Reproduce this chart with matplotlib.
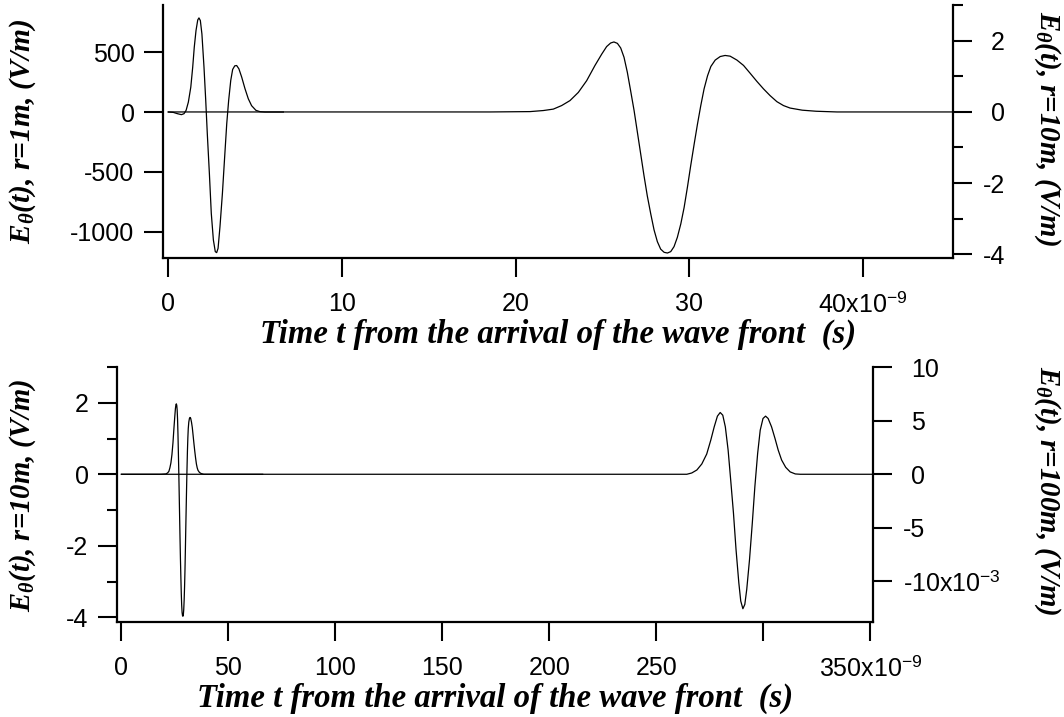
import matplotlib
matplotlib.use("Agg")
import matplotlib.pyplot as plt
from matplotlib.transforms import ScaledTranslation

SERIF = "Liberation Serif"
plt.rcParams["mathtext.fontset"] = "custom"
plt.rcParams["mathtext.rm"] = SERIF + ":bold:italic"
plt.rcParams["mathtext.sf"] = "Liberation Sans"
plt.rcParams["mathtext.it"] = SERIF + ":italic"
plt.rcParams["mathtext.bf"] = SERIF + ":bold"
plt.rcParams["axes.unicode_minus"] = False

# ---------------- data (time in ns) ----------------
# E_theta at r = 1 m (V/m)
t_r1 = [0.01, 0.29, 0.53, 0.76, 0.91, 1.03, 1.16, 1.30, 1.41, 1.50, 1.60, 1.70,
        1.77, 1.85, 1.94, 2.06, 2.16, 2.25, 2.37, 2.48, 2.60, 2.71, 2.79, 2.87,
        2.98, 3.12, 3.25, 3.37, 3.48, 3.60, 3.71, 3.83, 3.94, 4.07, 4.23, 4.42,
        4.61, 4.80, 5.05, 5.28, 5.57, 6.63]
e_r1 = [0, -3, -14, -22, -14, 14, 83, 208, 375, 542, 681, 770,
        787, 765, 653, 375, 97, -181, -514, -848, -1070, -1168, -1176, -1140,
        -959, -681, -375, -97, 97, 264, 356, 386, 389, 361, 292, 195,
        111, 53, 14, 3, 0, 0]

# E_theta at r = 10 m (V/m)
t_r10 = [0.0, 18.53, 20.83, 21.60, 22.17, 22.65, 23.13, 23.61, 24.09, 24.57, 24.96,
         25.24, 25.47, 25.66, 25.86, 26.05, 26.24, 26.43, 26.62, 26.82, 27.01,
         27.20, 27.39, 27.58, 27.78, 27.97, 28.16, 28.35, 28.55, 28.74, 28.93,
         29.12, 29.31, 29.51, 29.70, 29.89, 30.08, 30.28, 30.47, 30.66, 30.85,
         31.05, 31.24, 31.49, 31.78, 32.06, 32.35, 32.74, 33.12, 33.50, 33.89,
         34.27, 34.65, 35.04, 35.42, 35.80, 36.50, 37.30, 38.50, 66.0]
e_r10 = [0.0, 0.0, 0.01, 0.04, 0.08, 0.18, 0.32, 0.55, 0.88, 1.31, 1.63,
         1.84, 1.94, 1.97, 1.93, 1.80, 1.54, 1.12, 0.60, 0.04, -0.57,
         -1.18, -1.79, -2.36, -2.87, -3.32, -3.65, -3.86, -3.95, -3.97, -3.93,
         -3.79, -3.53, -3.15, -2.69, -2.12, -1.51, -0.90, -0.34, 0.18, 0.65,
         1.02, 1.28, 1.46, 1.56, 1.59, 1.57, 1.46, 1.31, 1.09, 0.86,
         0.65, 0.46, 0.29, 0.18, 0.11, 0.05, 0.02, 0.0, 0.0]

# E_theta at r = 100 m (x 1e-3 V/m)
t_r100 = [0.0, 264.2, 266.5, 268.9, 271.2, 273.5, 275.4, 277.0, 278.5, 279.8,
          281.0, 282.2, 283.5, 284.7, 286.0, 287.2, 288.5, 289.4, 290.4, 291.3,
          292.2, 293.5, 294.8, 296.0, 297.3, 298.5, 299.8, 301.0, 302.2, 303.8,
          305.4, 306.9, 308.5, 310.4, 312.5, 314.9, 317.2, 352.0]
e_r100 = [0.0, 0.0, 0.12, 0.40, 0.96, 1.89, 3.19, 4.43, 5.43, 5.77,
          5.52, 4.43, 2.26, -0.53, -3.63, -7.04, -10.14, -11.84, -12.56, -12.16,
          -10.76, -7.97, -4.56, -1.15, 1.95, 4.12, 5.21, 5.43, 5.21, 4.43,
          3.35, 2.26, 1.33, 0.65, 0.22, 0.03, 0.0, 0.0]

top_xticks = [0, 10, 20, 30, 40]
top_xlabels = ["0", "10", "20", "30", "40x10$^{\\mathsf{-9}}$"]
top_lticks = [-1000, -500, 0, 500]
top_rticks = [-4, -2, 0, 2]
top_rminor = [-3, -1, 1, 3]
bot_xticks = [0, 50, 100, 150, 200, 250, 300, 350]
bot_xlabels = ["0", "50", "100", "150", "200", "250", "", "350x10$^{\\mathsf{-9}}$"]
bot_lticks = [-4, -2, 0, 2]
bot_lminor = [-3, -1, 1, 3]
bot_rticks = [-10, -5, 0, 5, 10]
bot_rlabels = ["-10x10$^{\\mathsf{-3}}$", "-5", "0", "5", "10"]

xlabel_text = "Time t from the arrival of the wave front  (s)"

# ---------------- figure ----------------
W, H = 1064, 717
fig = plt.figure(figsize=(W / 100, H / 100), dpi=100)

def box(l, t, r, b):
    return [l / W, 1 - b / H, (r - l) / W, (b - t) / H]

LW = 1.6
TFS = 18

def style(ax):
    for s in ax.spines.values():
        s.set_visible(False)
        s.set_linewidth(LW)
    ax.tick_params(which="major", length=13.5, width=1.5, direction="out")
    ax.tick_params(which="minor", length=7.5, width=1.5, direction="out")

# top panel
ax1 = fig.add_axes(box(163, 5, 953, 258))
ax1r = ax1.twinx()
ax1.plot(t_r1, e_r1, color="black", lw=0.9)
ax1r.plot(t_r10, e_r10, color="black", lw=0.9)
ax1.set_xlim(-0.30, 45.18)
ax1.set_ylim(-1221, 895)
ax1r.set_ylim(-4.11, 3.01)
ax1.set_xticks(top_xticks, top_xlabels)
ax1.set_yticks(top_lticks, [str(v) for v in top_lticks])
ax1r.set_yticks(top_rticks, [str(v) for v in top_rticks])
ax1r.set_yticks(top_rminor, minor=True)
style(ax1)
style(ax1r)
ax1.spines["left"].set_visible(True)
ax1.spines["bottom"].set_visible(True)
ax1r.spines["right"].set_visible(True)
ax1.tick_params(axis="x", pad=11)
ax1.tick_params(axis="y", pad=7)
ax1r.tick_params(axis="y", pad=14)

# bottom panel
ax2 = fig.add_axes(box(117, 367, 873, 622))
ax2r = ax2.twinx()
ax2.plot(t_r10, e_r10, color="black", lw=0.9)
ax2r.plot(t_r100, e_r100, color="black", lw=0.9)
ax2.set_xlim(-2.06, 351.2)
ax2.set_ylim(-4.13, 2.99)
ax2r.set_ylim(-13.8, 10.02)
ax2.set_xticks(bot_xticks, bot_xlabels)
ax2.set_yticks(bot_lticks, [str(v) for v in bot_lticks])
ax2.set_yticks(bot_lminor, minor=True)
ax2r.set_yticks(bot_rticks, bot_rlabels)
style(ax2)
style(ax2r)
ax2.spines["left"].set_visible(True)
ax2.spines["bottom"].set_visible(True)
ax2r.spines["right"].set_visible(True)
ax2.tick_params(axis="x", pad=11)
ax2.tick_params(axis="y", pad=7)
ax2r.tick_params(axis="y", pad=14)

for ax in (ax1, ax1r, ax2, ax2r):
    for lab in ax.get_xticklabels() + ax.get_yticklabels():
        lab.set_family("Liberation Sans")
        lab.set_fontsize(TFS)

# right-axis labels: digits aligned, minus sign hangs to the left
hang = ScaledTranslation(-0.333 * TFS / 72, 0, fig.dpi_scale_trans)
for ax, vals in ((ax1r, top_rticks), (ax2r, bot_rticks)):
    for tick, v in zip(ax.yaxis.get_major_ticks(), vals):
        if v < 0:
            tick.label2.set_transform(tick.label2.get_transform() + hang)

LABFONT = dict(family=SERIF, weight="bold", style="italic", size=17)

xl1 = fig.text(558 / W, 1 - 334 / H, xlabel_text, ha="center", va="center", **LABFONT)
xl2 = fig.text(495 / W, 1 - 698 / H, xlabel_text, ha="center", va="center", **LABFONT)

th = "$_{\\mathrm{\\theta}}$"
yl = [
    (fig.text(23 / W, 1 - 131 / H, "E" + th + "(t), r=1m, (V/m)", rotation=90,
              ha="center", va="center", **LABFONT), 226),
    (fig.text(1047 / W, 1 - 129 / H, "E" + th + "(t), r=10m, (V/m)", rotation=-90,
              ha="center", va="center", **LABFONT), 236),
    (fig.text(23 / W, 1 - 495 / H, "E" + th + "(t), r=10m, (V/m)", rotation=90,
              ha="center", va="center", **LABFONT), 234),
    (fig.text(1047 / W, 1 - 491 / H, "E" + th + "(t), r=100m, (V/m)", rotation=-90,
              ha="center", va="center", **LABFONT), 250),
]

fig.canvas.draw()
r = fig.canvas.get_renderer()
w = xl1.get_window_extent(r).width
fs = 17 * 598 / w
for t in [xl1, xl2]:
    t.set_fontsize(fs)
for t, target in yl:
    h = t.get_window_extent(r).height
    t.set_fontsize(17 * target / h)

fig.savefig("out.png", dpi=100)
